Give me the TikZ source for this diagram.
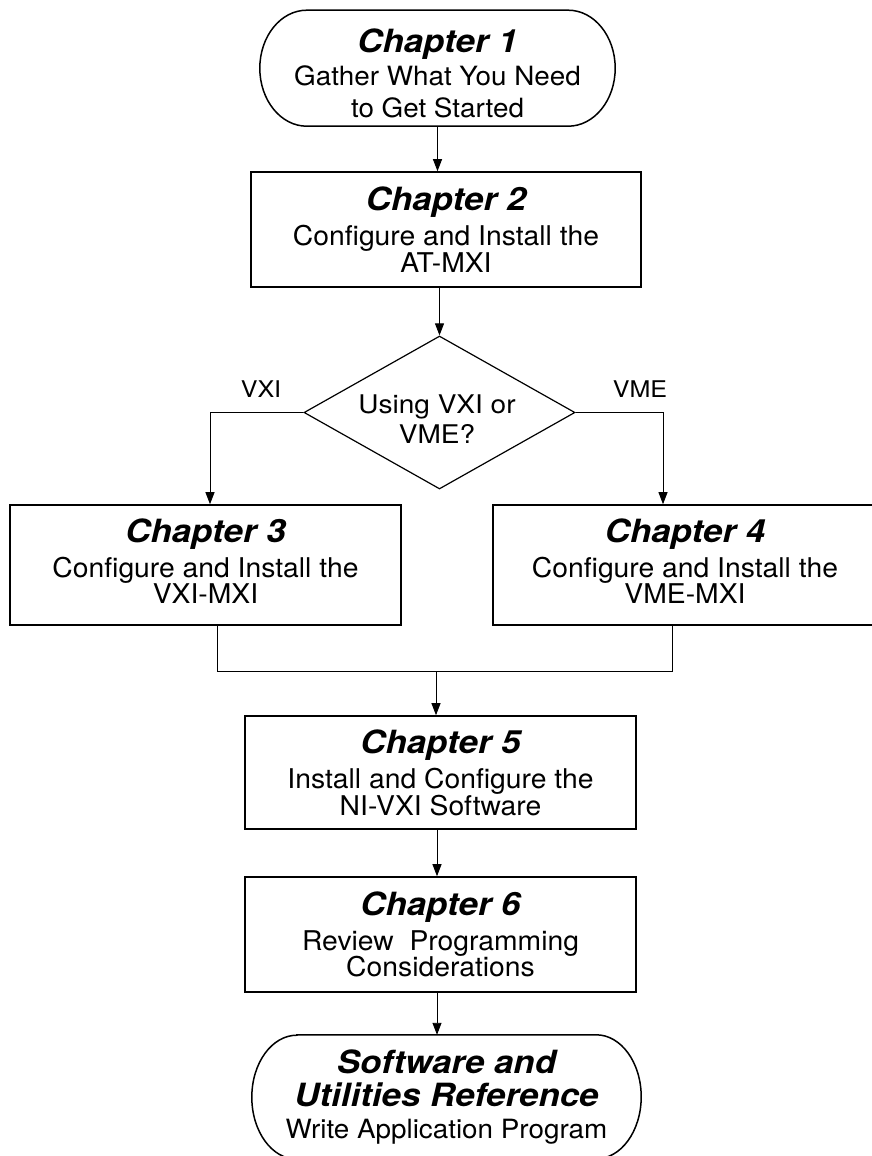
\documentclass[tikz,border=0pt]{standalone}
\usepackage{fontspec}
\usepackage{graphicx}
\setmainfont{TeX Gyre Heros}
\usetikzlibrary{shapes.geometric,arrows.meta}
\newcommand\sx[1]{\scalebox{1.09}[1]{#1}}
\newcommand\bsxx[1]{\scalebox{1.04}[1]{#1}}
\newcommand\tsxx[1]{\scalebox{1.05}[1]{#1}}
\newcommand\bodyf{\fontsize{27.2}{26.5}\selectfont}
\newcommand\termf{\fontsize{26.5}{32}\selectfont}
\newcommand\ttlf[1]{{\fontsize{32}{34}\selectfont\bfseries\itshape\sx{#1}}}
\lineskiplimit=-100pt
\lineskip=0pt
\begin{document}
\begin{tikzpicture}[x=1pt,y=-1pt,
  box/.style={draw,line width=1.6pt,rectangle,inner sep=0pt,align=center,font=\bodyf},
  btext/.style={inner sep=0pt,align=center,font=\bodyf},
  term/.style={inner sep=0pt,align=center,font=\termf},
  termline/.style={line width=1.5pt},
  dia/.style={draw,line width=1.2pt,diamond,inner sep=0pt,minimum width=271pt,minimum height=153pt},
  dtext/.style={inner sep=0pt,align=center,font=\fontsize{25.7}{30}\selectfont},
  conn/.style={line width=0.9pt},
  arr/.style={conn,-{Triangle[length=12pt,width=9pt]}},
  lab/.style={inner sep=0pt,font=\fontsize{23}{28}\selectfont}]
\useasboundingbox (0,0) rectangle (872,1156);
\fill[white] (0,0) rectangle (872,1156);

% Chapter 1 terminator
\node[term,minimum width=355pt,minimum height=106pt] (c1) at (437.5,73)
  {\ttlf{Chapter 1}\\[1pt] \tsxx{Gather What You Need}\\ \tsxx{to Get Started}};
\draw[termline] ([shift={(47pt,116pt)}]c1.south west) -- ([shift={(-47pt,116pt)}]c1.south east)
  arc[start angle=90,end angle=-90,x radius=47pt,y radius=58pt]
  -- ([xshift=47pt]c1.south west)
  arc[start angle=270,end angle=90,x radius=47pt,y radius=58pt] -- cycle;

% Chapter 2
\node[box,minimum width=390pt,minimum height=115pt] (c2) at (446,229.5)
  {\ttlf{Chapter 2}\\[8.5pt] \bsxx{Configure and Install the}\\ \bsxx{AT-MXI}};

% decision
\node[dia] (d) at (439.5,412.5) {};
\node[dtext] (dq) at (437,419) {\sx{Using VXI or}\\ \sx{VME?}};
\node[lab] (lvxi) at (261,389) {\sx{VXI}};
\node[lab] (lvme) at (640,389) {\sx{VME}};

% Chapter 3 and 4
\node[box,minimum width=391pt,minimum height=120pt] (c3) at (205.5,565) {};
\node[btext] (t3) at ([yshift=4pt]c3.center)
  {\ttlf{Chapter 3}\\[8.5pt] \bsxx{Configure and Install the}\\ \bsxx{VXI-MXI}};
\node[box,minimum width=384pt,minimum height=120pt] (c4) at (685,565) {};
\node[btext] (t4) at ([yshift=4pt]c4.center)
  {\ttlf{Chapter 4}\\[8.5pt] \bsxx{Configure and Install the}\\ \bsxx{VME-MXI}};

% Chapter 5 and 6
\node[box,minimum width=391pt,minimum height=113pt] (c5) at (440.5,772.5)
  {\ttlf{Chapter 5}\\[9pt] \bsxx{Install and Configure the}\\ \bsxx{NI-VXI Software}};
\node[box,minimum width=391pt,minimum height=115pt] (c6) at (440.5,934.5)
  {\ttlf{Chapter 6}\\[8.5pt] \bsxx{Review~ Programming}\\ \bsxx{Considerations}};

% final terminator
\node[term,minimum width=389pt,minimum height=124pt] (c7) at (446.5,1097)
  {\ttlf{Software and}\\[1pt] \ttlf{Utilities Reference}\\ \tsxx{Write Application Program}};
\draw[termline] ([xshift=45pt]c7.north west) -- ([xshift=-45pt]c7.north east)
  arc[start angle=90,end angle=-90,x radius=45pt,y radius=62pt]
  -- ([xshift=45pt]c7.south west)
  arc[start angle=270,end angle=90,x radius=45pt,y radius=62pt] -- cycle;

% connectors
\draw[arr] (c1.south) -- (c1.south |- c2.north);
\draw[arr] (d.north |- c2.south) -- (d.north);
\draw[arr] (d.west) -| ([xshift=4.5pt]c3.north);
\draw[arr] (d.east) -| ([xshift=-22pt]c4.north);
\coordinate (m) at (436,671);
\draw[conn] ([xshift=11.5pt]c3.south) |- (m);
\draw[conn] ([xshift=-13pt]c4.south) |- (m);
\draw[arr] (m) -- (m |- c5.north);
\draw[arr] ([xshift=-3.5pt]c5.south) -- ([xshift=-3.5pt]c6.north);
\draw[arr] ([xshift=-3.5pt]c6.south) -- ([xshift=-3.5pt]c6.south |- c7.north);
\end{tikzpicture}
\end{document}
